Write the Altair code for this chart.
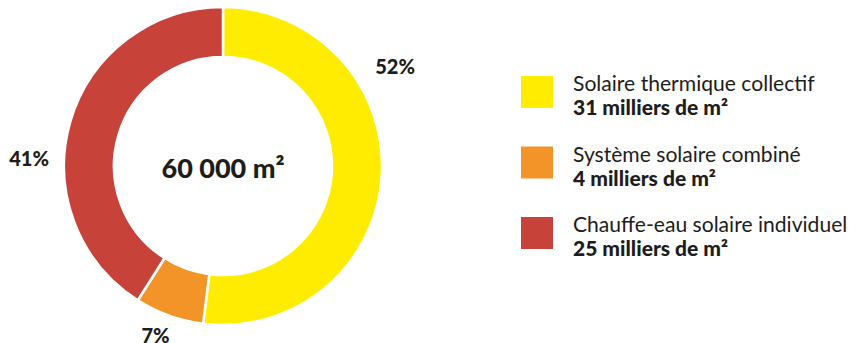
import altair as alt
import pandas as pd

categories = ["Solaire thermique collectif", "Système solaire combiné", "Chauffe-eau solaire individuel"]
milliers = [31, 4, 25]
percents = [52, 7, 41]
colors = ["#FFEC00", "#F39428", "#C7433A"]
total_label = ["60 000 m²"]

# layout / style (not data)
CX, CY = 215, 158          # donut centre inside the chart
R_OUT, R_IN = 159, 109
label_style = [(198, -0.58), (184, 0.03), (194, -0.25)]   # (radius, theta offset rad)
LEG_SQ_X, LEG_TXT_X = 529, 565
LEG_Y_RANGE = [84, 225]

df = pd.DataFrame({
    "cat": categories,
    "milliers": milliers,
    "pct": percents,
    "idx": list(range(len(categories))),
})
df["pct_label"] = df["pct"].astype(str) + "%"
df["detail"] = df["milliers"].astype(str) + " milliers de m²"

FONT = "Lato"
INK = "#1d1d1b"

color = alt.Color("cat:N", scale=alt.Scale(domain=categories, range=colors), legend=None)
base = alt.Chart(df)
cx, cy = alt.value(CX), alt.value(CY)

arcs = base.mark_arc(radius=R_OUT, innerRadius=R_IN, stroke="white", strokeWidth=2.5).encode(
    theta=alt.Theta("pct:Q", stack=True),
    color=color,
    order=alt.Order("idx:Q"),
    x=cx, y=cy,
)

labelled = base.transform_window(
    cum="sum(pct)", sort=[alt.SortField("idx")], frame=[None, 0]
).transform_calculate(mid="datum.cum - datum.pct / 2")

label_layers = []
for i, (r, off) in enumerate(label_style):
    label_layers.append(
        labelled.transform_filter(alt.datum.idx == i).mark_text(
            radius=r, thetaOffset=off, font=FONT, fontWeight=900, fontSize=20,
            color=INK, align="center", baseline="middle",
        ).encode(theta=alt.Theta("mid:Q", stack=None), text="pct_label:N", x=cx, y=cy)
    )

center = alt.Chart(pd.DataFrame({"t": total_label})).mark_text(
    font=FONT, fontWeight=900, fontSize=27, color=INK, baseline="alphabetic", dy=12
).encode(text="t:N", x=cx, y=cy)

leg_y = alt.Y("cat:N", scale=alt.Scale(type="point", domain=categories, range=LEG_Y_RANGE, padding=0), axis=None)
squares = base.mark_square(size=1024, opacity=1).encode(y=leg_y, x=alt.value(LEG_SQ_X), color=color)
line1 = base.mark_text(align="left", baseline="alphabetic", dy=-1, font=FONT, fontSize=21.1, color=INK).encode(
    y=leg_y, x=alt.value(LEG_TXT_X), text="cat:N")
line2 = base.mark_text(align="left", baseline="alphabetic", dy=23, font=FONT, fontWeight=900, fontSize=21, color=INK).encode(
    y=leg_y, x=alt.value(LEG_TXT_X), text="detail:N")

chart = alt.layer(arcs, *label_layers, center, squares, line1, line2).properties(
    width=841, height=335, padding=0, autosize=alt.AutoSizeParams(type="none")
).configure_view(stroke=None)

chart.save("out.html", embed_options={"renderer": "svg", "actions": False})
